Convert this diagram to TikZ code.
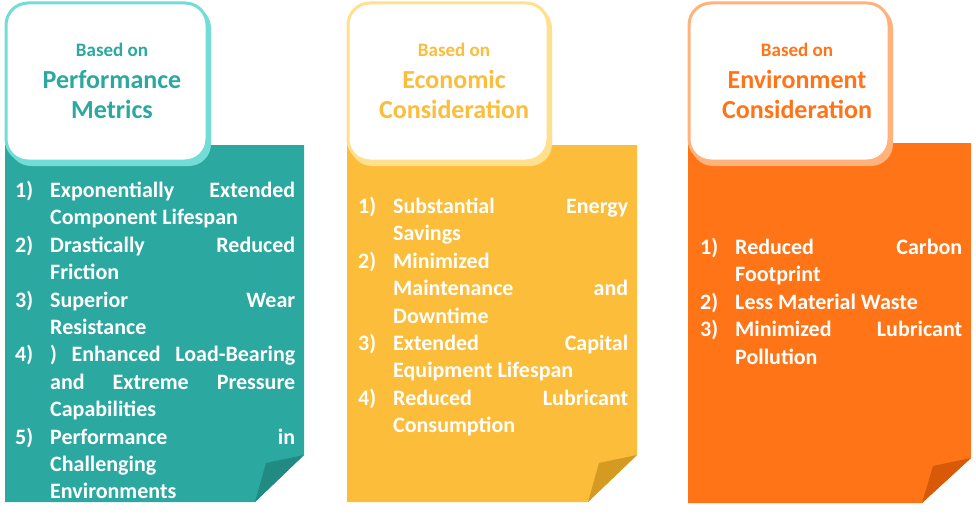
\documentclass[tikz,border=0pt]{standalone}
\usepackage{fontspec}
\setmainfont{Carlito}
\begin{document}
\begin{tikzpicture}[x=1pt,y=-1pt,
  hdr/.style={rounded corners=22pt,fill=white,line width=3pt},
  lst/.style={anchor=north west,inner sep=0pt,text width=#1,align=justify,text=white,font=\bfseries\fontsize{22}{27.4}\selectfont},
  ttl/.style={align=center,font=\bfseries\fontsize{26}{30}\selectfont,inner sep=0pt}]
\useasboundingbox (0,0) rectangle (976,519);
\definecolor{tA}{HTML}{2BA8A0}\definecolor{tAl}{HTML}{72DCD6}\definecolor{tAd}{HTML}{218A83}
\definecolor{tB}{HTML}{FBBD3A}\definecolor{tBl}{HTML}{FFE08E}\definecolor{tBd}{HTML}{D49A22}
\definecolor{tC}{HTML}{FF7417}\definecolor{tCl}{HTML}{FFB27C}\definecolor{tCd}{HTML}{D85A08}
\newcommand{\itm}[2]{\hyphenpenalty=10000\relax\exhyphenpenalty=10000\relax\tolerance=10000\relax\noindent\hangindent=35pt\hangafter=1\makebox[35pt][l]{#1}#2\par}
\newcommand{\bon}{{\fontsize{19}{22}\selectfont Based on}\\[2pt]}
% card 1
\fill[tA] (5,145) -- (304,145) -- (304,455) -- (255,502) -- (5,502) -- cycle;
\fill[tAd] (304,455) -- (266,463) -- (255,502) -- cycle;
\fill[tAl] (9,6) [rounded corners=22pt] rectangle (211,166);
\draw[hdr,draw=tAl] (6,3) rectangle (207,161);
\node[ttl,text=tA] (h1) at (112,81) {\bon Performance\\Metrics};
\node[lst=280pt] (l1) at (15,181) {\itm{1)}{Exponentially Extended\linebreak Component Lifespan}\itm{2)}{Drastically Reduced\linebreak Friction}\itm{3)}{Superior Wear\linebreak Resistance}\itm{4)}{) Enhanced Load-Bearing\linebreak and Extreme Pressure\linebreak Capabilities}\itm{5)}{Performance in\linebreak Challenging\\Environments}};
% card 2
\fill[tB] (347,145) -- (637,145) -- (637,455) -- (588,502) -- (347,502) -- cycle;
\fill[tBd] (637,455) -- (599,463) -- (588,502) -- cycle;
\fill[tBl] (350,6) [rounded corners=22pt] rectangle (552,166);
\draw[hdr,draw=tBl] (348,3) rectangle (548,161);
\node[ttl,text=tB] (h2) at (454,81) {\bon Economic\\Consideration};
\node[lst=270pt] (l2) at (358,197) {\itm{1)}{Substantial Energy\linebreak Savings}\itm{2)}{Minimized\\Maintenance and\linebreak Downtime}\itm{3)}{Extended Capital\linebreak Equipment Lifespan}\itm{4)}{Reduced Lubricant\linebreak Consumption}};
% card 3
\fill[tC] (688,143) -- (971,143) -- (971,458) -- (922,503) -- (688,503) -- cycle;
\fill[tCd] (971,458) -- (933,466) -- (922,503) -- cycle;
\fill[tCl] (691,6) [rounded corners=22pt] rectangle (893,166);
\draw[hdr,draw=tCl] (689,3) rectangle (889,161);
\node[ttl,text=tC] (h3) at (797,81) {\bon Environment\\Consideration};
\node[lst=262pt] (l3) at (700,238) {\itm{1)}{Reduced Carbon\linebreak Footprint}\itm{2)}{Less Material Waste}\itm{3)}{Minimized Lubricant\linebreak Pollution}};
\end{tikzpicture}
\end{document}
